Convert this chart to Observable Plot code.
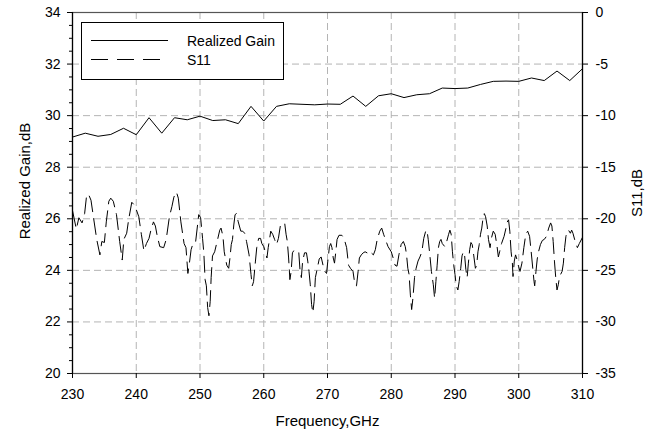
<!DOCTYPE html>
<html>
<head>
<meta charset="utf-8">
<script src="https://cdn.jsdelivr.net/npm/d3@7"></script>
<script src="https://cdn.jsdelivr.net/npm/@observablehq/plot@0.6"></script>
<style>
  body { margin: 0; background: #fff; font-family: Arial, "Liberation Sans", sans-serif; }
  #wrap { position: relative; width: 654px; height: 436px; }
  #legend { position: absolute; left: 81px; top: 22px; }
</style>
</head>
<body>
<div id="wrap">
  <div id="chart"></div>
  <svg id="legend" width="204" height="59" font-family="Arial, 'Liberation Sans', sans-serif" font-size="14">
    <rect x="0.5" y="0.5" width="202" height="57" fill="#fff" stroke="#000" stroke-width="1"></rect>
    <line x1="10" x2="87" y1="18.5" y2="18.5" stroke="#000" stroke-width="1"></line>
    <line x1="10" x2="80" y1="37.5" y2="37.5" stroke="#000" stroke-width="1" stroke-dasharray="17,9"></line>
    <text x="106" y="24" fill="#000">Realized Gain</text>
    <text x="106" y="43" fill="#000">S11</text>
  </svg>
</div>
<script>
// ---- data ----
const xTicks = [230, 240, 250, 260, 270, 280, 290, 300, 310];
const gainTicks = [20, 22, 24, 26, 28, 30, 32, 34];
const gainMinorTicks = [20.5,21,21.5,22.5,23,23.5,24.5,25,25.5,26.5,27,27.5,28.5,29,29.5,30.5,31,31.5,32.5,33,33.5];
const s11Ticks = [-35, -30, -25, -20, -15, -10, -5, 0];

const gainFreq = [230,232,234,236,238,240,242,244,246,248,250,252,254,256,258,260,262,264,266,268,270,
                  272,274,276,278,280,282,284,286,288,290,292,294,296,298,300,302,304,306,308,310];
const gainVal = [29.17,29.32,29.20,29.27,29.51,29.26,29.92,29.32,29.92,29.84,29.98,29.81,29.84,29.69,30.36,29.79,30.36,30.46,30.44,30.42,30.45,
                 30.44,30.76,30.36,30.77,30.85,30.70,30.81,30.85,31.07,31.05,31.07,31.21,31.33,31.34,31.33,31.46,31.36,31.73,31.36,31.82];

const s11Points = [
[230,-19.2],[230.6,-21.0],[231.0,-19.9],[231.5,-20.4],[231.9,-19.5],[232.2,-17.8],[232.5,-17.6],[232.9,-18.2],[233.3,-19.9],[233.8,-22.0],
[234.3,-23.5],[234.6,-22.2],[235.0,-22.3],[235.3,-20.3],[235.7,-18.3],[236.0,-18.0],[236.4,-18.3],[236.9,-19.6],[237.4,-22.2],[237.8,-24.0],
[238.05,-22.0],[238.5,-21.4],[238.8,-20.1],[239.3,-18.4],[239.6,-18.6],[240.0,-19.1],[240.4,-19.8],[240.8,-21.5],[241.2,-23.1],[241.6,-22.4],
[242.0,-21.9],[242.3,-21.1],[242.7,-20.3],[243.0,-20.7],[243.3,-21.7],[243.7,-22.7],[244.3,-22.8],[244.7,-22.0],[245.2,-19.8],[245.6,-18.8],
[245.9,-17.9],[246.3,-17.4],[246.6,-18.0],[247.0,-20.3],[247.5,-22.4],[247.8,-22.8],[248.1,-25.3],[248.4,-24.0],[248.6,-23.0],[248.9,-22.4],
[249.3,-22.3],[249.6,-20.7],[249.8,-19.6],[250.1,-19.9],[250.4,-21.9],[250.6,-23.3],[250.8,-25.9],[251.0,-26.5],[251.2,-28.6],[251.4,-29.4],
[251.6,-28.0],[251.75,-25.7],[251.96,-23.6],[252.3,-23.2],[252.8,-21.9],[253.1,-21.1],[253.3,-20.9],[253.6,-21.7],[253.8,-23.2],[254.2,-24.5],
[254.5,-24.8],[254.7,-23.8],[254.9,-22.5],[255.1,-22.0],[255.3,-20.6],[255.5,-19.6],[255.7,-19.5],[256.0,-20.3],[256.4,-21.2],[256.7,-21.2],
[257.0,-21.4],[257.3,-22.2],[257.7,-23.5],[258.0,-25.4],[258.2,-26.5],[258.4,-26.1],[258.7,-24.1],[258.9,-22.8],[259.2,-21.9],[259.5,-21.9],
[259.7,-22.4],[260.0,-22.7],[260.3,-23.3],[260.5,-23.8],[260.7,-22.8],[261.1,-21.2],[261.4,-21.5],[261.7,-22.0],[262.0,-22.5],[262.3,-21.9],
[262.6,-20.7],[262.9,-20.4],[263.3,-20.5],[263.5,-21.5],[263.7,-22.2],[263.9,-23.8],[264.1,-25.9],[264.3,-25.1],[264.5,-23.3],[264.8,-23.0],
[265.1,-23.2],[265.5,-23.3],[265.7,-25.1],[265.9,-25.7],[266.1,-24.1],[266.4,-23.3],[266.7,-23.3],[266.9,-24.1],[267.1,-25.1],[267.3,-26.4],
[267.5,-28.3],[267.7,-29.1],[267.9,-28.0],[268.1,-25.7],[268.4,-24.8],[268.7,-23.9],[269.0,-23.7],[269.3,-24.5],[269.6,-25.1],[269.85,-25.3],
[270.05,-24.1],[270.3,-22.7],[270.5,-22.4],[270.7,-22.8],[270.9,-23.8],[271.1,-24.3],[271.3,-23.2],[271.5,-22.0],[271.8,-21.6],[272.25,-21.6],
[272.6,-21.9],[273.0,-22.8],[273.3,-24.5],[273.6,-24.8],[274.0,-25.1],[274.3,-26.4],[274.55,-26.5],[274.8,-25.1],[275.0,-23.8],[275.3,-23.5],
[275.6,-23.3],[275.9,-23.2],[276.2,-23.3],[276.5,-23.1],[276.85,-23.3],[277.2,-23.5],[277.5,-23.0],[277.8,-22.0],[278.2,-21.2],[278.5,-20.9],
[278.8,-21.5],[279.2,-22.2],[279.5,-22.7],[280.0,-23.2],[280.3,-23.8],[280.6,-24.5],[280.9,-24.6],[281.2,-23.5],[281.55,-22.5],[281.9,-22.2],
[282.2,-22.7],[282.4,-23.5],[282.6,-24.8],[282.8,-25.4],[283.0,-27.4],[283.2,-28.8],[283.4,-27.7],[283.65,-25.7],[283.9,-24.8],[284.2,-24.1],
[284.5,-23.7],[284.8,-23.2],[285.1,-21.9],[285.4,-21.2],[285.6,-21.1],[285.8,-22.0],[286.05,-23.5],[286.3,-25.1],[286.6,-26.4],[286.8,-27.7],
[287.0,-26.1],[287.2,-24.5],[287.4,-22.8],[287.6,-22.2],[287.8,-22.0],[288.0,-22.4],[288.4,-22.7],[288.7,-22.2],[289.0,-21.5],[289.2,-21.1],
[289.4,-21.5],[289.6,-23.2],[289.8,-24.5],[290.0,-25.4],[290.2,-26.5],[290.45,-26.9],[290.65,-26.1],[290.9,-24.8],[291.1,-23.6],[291.3,-23.2],
[291.5,-23.5],[291.7,-24.9],[291.9,-25.7],[292.1,-24.3],[292.3,-23.0],[292.5,-22.3],[292.7,-22.5],[292.95,-23.6],[293.2,-24.8],[293.4,-24.5],
[293.6,-23.2],[293.8,-22.5],[294.0,-21.5],[294.2,-20.9],[294.4,-19.9],[294.6,-19.5],[294.8,-19.8],[295.05,-20.7],[295.25,-22.0],[295.5,-22.8],
[295.7,-21.9],[296.0,-21.2],[296.3,-21.5],[296.6,-22.7],[296.8,-23.7],[297.0,-23.2],[297.3,-22.4],[297.7,-21.7],[298.0,-20.9],[298.2,-20.3],
[298.4,-20.1],[298.6,-21.2],[298.8,-23.2],[299.0,-24.3],[299.1,-25.6],[299.3,-24.1],[299.5,-23.5],[299.75,-24.0],[299.96,-24.6],[300.2,-25.1],
[300.5,-24.3],[300.8,-22.8],[301.1,-21.5],[301.4,-21.2],[301.7,-21.7],[301.95,-23.2],[302.2,-24.8],[302.4,-26.1],[302.5,-26.5],[302.7,-25.1],
[302.9,-23.9],[303.1,-23.2],[303.4,-22.5],[303.7,-22.1],[304.0,-22.0],[304.35,-21.7],[304.7,-20.9],[305.0,-20.4],[305.2,-20.7],[305.4,-22.2],
[305.6,-24.1],[305.8,-25.7],[306.0,-26.9],[306.2,-26.4],[306.4,-25.6],[306.8,-25.1],[307.0,-24.3],[307.2,-22.8],[307.4,-21.7],[307.6,-21.2],
[307.8,-21.1],[308.1,-21.4],[308.3,-21.1],[308.5,-21.4],[308.85,-22.2],[309.2,-22.8],[309.5,-22.4],[310,-21.8]
];

// S11 (dB, right axis) -> Realized Gain scale (left axis): 0 dB ↔ 34, -35 dB ↔ 20
const gainMin = gainTicks[0], gainMax = gainTicks[gainTicks.length - 1];
const s11Min = s11Ticks[0], s11Max = s11Ticks[s11Ticks.length - 1];
const s11ToGain = s => gainMin + (s - s11Min) * (gainMax - gainMin) / (s11Max - s11Min);
const gainToS11 = g => s11Min + (g - gainMin) * (s11Max - s11Min) / (gainMax - gainMin);

const gainData = gainFreq.map((f, i) => ({f, g: gainVal[i]}));
const s11Data = s11Points.map(([f, s]) => ({f, g: s11ToGain(s)}));

const font = "Arial, 'Liberation Sans', sans-serif";
const grid = {stroke: "#b4b4b4", strokeOpacity: 1, strokeWidth: 1, strokeDasharray: "7,4"};

const chart = Plot.plot({
  width: 654,
  height: 436,
  marginLeft: 72,
  marginRight: 72,
  marginTop: 12,
  marginBottom: 63,
  style: {fontFamily: font, fontSize: "14px", color: "#000", background: "#fff", overflow: "visible"},
  x: {domain: [xTicks[0], xTicks[xTicks.length - 1]]},
  y: {domain: [gainMin, gainMax]},
  marks: [
    Plot.gridX(xTicks.slice(1, -1), grid),
    Plot.gridY(gainTicks.slice(1, -1), grid),
    Plot.frame({stroke: "#555", strokeWidth: 1.2}),
    Plot.ruleX([xTicks[0], xTicks[xTicks.length - 1]], {stroke: "#000", strokeWidth: 1.2}),
    Plot.axisX(xTicks, {anchor: "bottom", tickSize: 5, tickPadding: 11, label: null, fontSize: 14, tickFormat: d => String(d)}),
    Plot.axisY(gainTicks, {anchor: "left", tickSize: 5, tickPadding: 7, label: null, fontSize: 14, tickFormat: d => String(d)}),
    Plot.axisY(gainMinorTicks, {anchor: "left", tickSize: 3, label: null, tickFormat: () => ""}),
    Plot.axisY(s11Ticks.map(s11ToGain), {anchor: "right", tickSize: 5, tickPadding: 8, label: null, fontSize: 14,
      tickFormat: g => String(Math.round(gainToS11(g)))}),
    Plot.line(gainData, {x: "f", y: "g", stroke: "#000", strokeWidth: 1}),
    Plot.line(s11Data, {x: "f", y: "g", stroke: "#000", strokeWidth: 1, strokeDasharray: "16,7"}),
    Plot.text(["Frequency,GHz"], {frameAnchor: "bottom", dy: 48, text: d => d, textAnchor: "middle", lineAnchor: "middle", fontSize: 15, fill: "#000"}),
    Plot.text(["Realized Gain,dB"], {frameAnchor: "left", dx: -47, dy: -12, rotate: -90, text: d => d, textAnchor: "middle", lineAnchor: "middle", fontSize: 15, fill: "#000"}),
    Plot.text(["S11,dB"], {frameAnchor: "right", dx: 55, rotate: -90, text: d => d, textAnchor: "middle", lineAnchor: "middle", fontSize: 15, fill: "#000"})
  ]
});
document.getElementById("chart").appendChild(chart);
</script>
</body>
</html>
